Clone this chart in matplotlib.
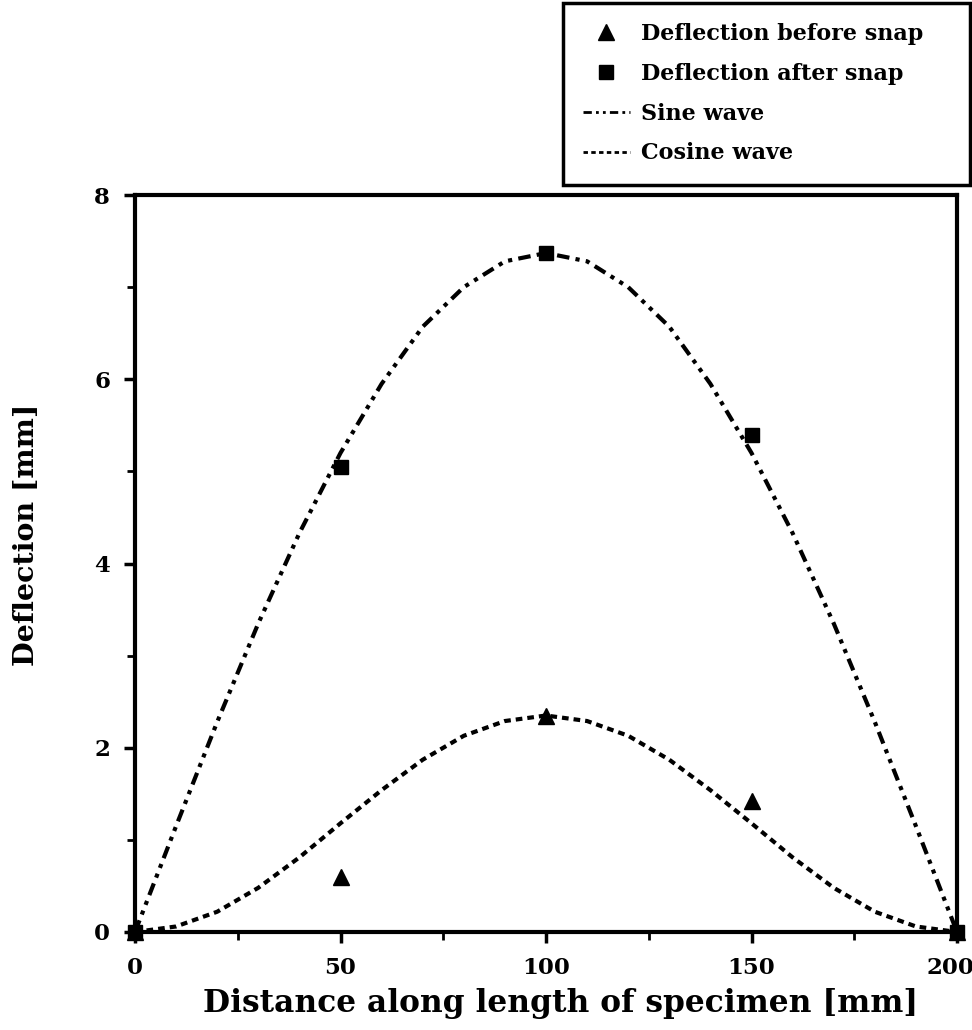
import matplotlib
matplotlib.use("Agg")
import matplotlib.pyplot as plt
from matplotlib.ticker import MultipleLocator
from matplotlib.patches import Rectangle
from matplotlib.transforms import ScaledTranslation

# Data
x_pts = [0, 50, 100, 150, 200]
before_snap = [0.0, 0.6, 2.35, 1.42, 0.0]
after_snap = [0.0, 5.05, 7.37, 5.4, 0.0]

x_curve = [0, 10, 20, 30, 40, 50, 60, 70, 80, 90, 100,
           110, 120, 130, 140, 150, 160, 170, 180, 190, 200]
sine_wave = [0.0, 1.15, 2.28, 3.35, 4.33, 5.2, 5.95, 6.57, 7.0, 7.28, 7.37,
             7.28, 7.0, 6.57, 5.95, 5.2, 4.33, 3.35, 2.28, 1.15, 0.0]
cosine_wave = [0.0, 0.06, 0.22, 0.48, 0.81, 1.18, 1.54, 1.87, 2.13, 2.29, 2.35,
               2.29, 2.13, 1.87, 1.54, 1.18, 0.81, 0.48, 0.22, 0.06, 0.0]

xticks = [0, 50, 100, 150, 200]
yticks = [0, 2, 4, 6, 8]

plt.rcParams['font.family'] = ['DejaVu Serif']
plt.rcParams['font.weight'] = 'bold'

fig = plt.figure(figsize=(9.72, 10.30), dpi=100)
ax = fig.add_axes([135/972, 1 - 932/1030, (957-135)/972, (932-195)/1030])

ax.plot(x_pts, before_snap, linestyle='none', marker='^', color='black',
        markersize=11, label='Deflection before snap', zorder=4, clip_on=False)
ax.plot(x_pts, after_snap, linestyle='none', marker='s', color='black',
        markersize=10, label='Deflection after snap', zorder=4, clip_on=False)
ax.plot(x_curve, sine_wave, color='black', lw=3,
        linestyle=(0, (3, 1.5, 1, 1.5, 1, 1.5)), label='Sine wave')
ax.plot(x_curve, cosine_wave, color='black', lw=3,
        linestyle=(0, (1.6, 1.2)), label='Cosine wave')

ax.set_xlim(0, 200)
ax.set_ylim(0, 8)
ax.set_xticks(xticks)
ax.set_yticks(yticks)
ax.xaxis.set_minor_locator(MultipleLocator(25))
ax.yaxis.set_minor_locator(MultipleLocator(1))
ax.tick_params(which='major', direction='out', length=8, width=2.5,
               labelsize=16.5, pad=10)
ax.tick_params(which='minor', direction='out', length=6, width=2)
for s in ax.spines.values():
    s.set_linewidth(3)

fig.canvas.draw()
for lbl in ax.get_xticklabels() + ax.get_yticklabels():
    lbl.set_fontfamily(['DejaVu Serif Condensed', 'DejaVu Serif'])
    lbl.set_fontweight('bold')
xtl = ax.get_xticklabels()
xtl[-1].set_transform(xtl[-1].get_transform() +
                      ScaledTranslation(-7/100, 0, fig.dpi_scale_trans))

ax.set_xlabel('Distance along length of specimen [mm]', fontsize=22.5,
              fontweight='bold')
ax.xaxis.set_label_coords((561-135)/822, -(988-932)/737)
ax.set_ylabel('Deflection [mm]', fontsize=20.5, fontweight='bold')
ax.yaxis.set_label_coords((40-135)/822, (932-535)/737)

leg = fig.legend(loc='upper left', bbox_to_anchor=(563/972, 1 - 3/1030),
                 frameon=False, handlelength=2.1, borderpad=0.9,
                 labelspacing=0.8, handletextpad=0.5, borderaxespad=0,
                 prop={'weight': 'bold', 'size': 16})
for h in leg.get_lines():
    h.set_linewidth(2)

fig.patches.append(Rectangle((563/972, 1 - 185/1030), (970-563)/972,
                             (185-3)/1030, transform=fig.transFigure,
                             fill=False, edgecolor='black', lw=2.5))

fig.savefig('out.png', dpi=100, facecolor='white')
